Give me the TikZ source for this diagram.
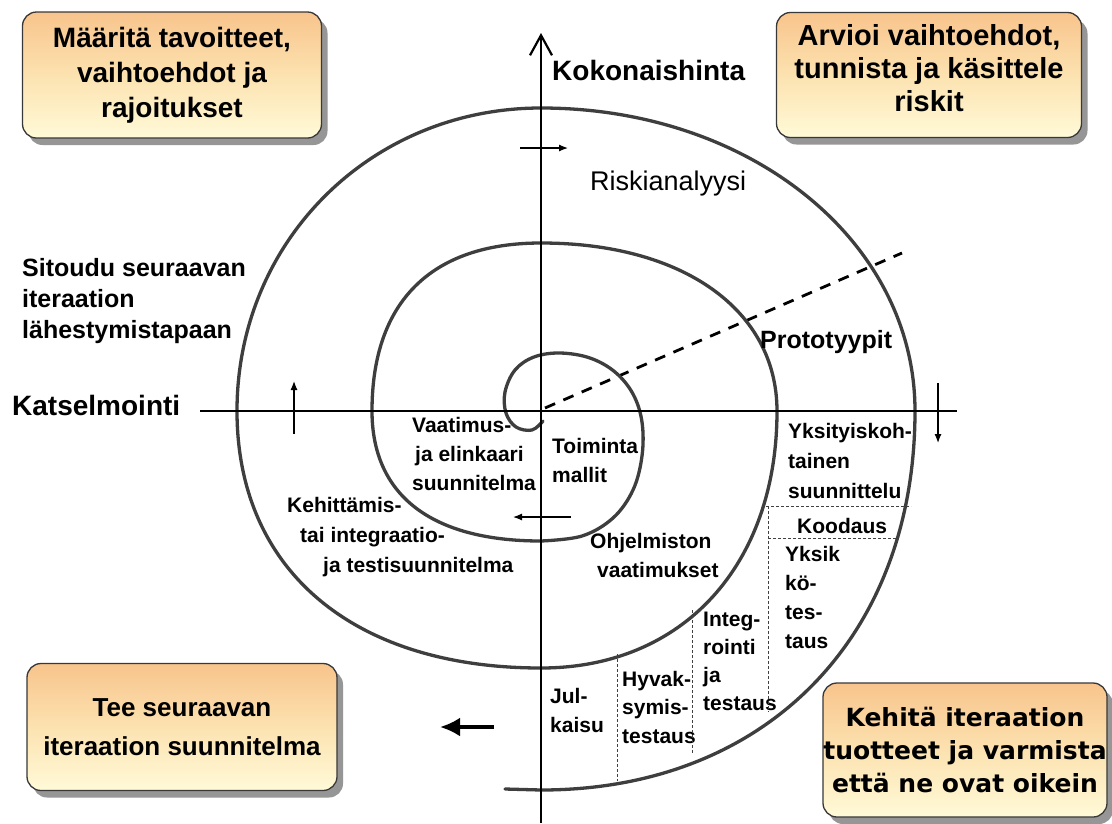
\documentclass[tikz,border=0pt]{standalone}
\usepackage{fontspec}
\setmainfont{Liberation Sans}
\newfontfamily\wideface{DejaVu Sans}
\usetikzlibrary{arrows.meta,shadows}
\definecolor{boxtop}{HTML}{F8C48C}
\definecolor{boxmid}{HTML}{FCE2B0}
\definecolor{boxbot}{HTML}{FFFAD8}
\definecolor{spiralgray}{HTML}{3E3E3E}
\definecolor{framegray}{HTML}{383838}
\begin{document}
\begin{tikzpicture}[x=1pt,y=-1pt,
  phasebox/.style={draw=framegray, line width=1.3pt, rounded corners=14pt,
    top color=boxtop, bottom color=boxbot, middle color=boxmid,
    drop shadow={shadow xshift=6pt, shadow yshift=-7pt, fill=black!55, opacity=0.75},
    align=center, inner sep=0pt},
  axisline/.style={line width=2.6pt, black},
  axislabel/.style={font=\bfseries\fontsize{28}{34}\selectfont, inner sep=0pt},
  sidelabel/.style={font=\bfseries\fontsize{25}{31}\selectfont, inner sep=0pt, align=left},
  risklabel/.style={font=\fontsize{27}{32}\selectfont, inner sep=0pt},
  phaselabel/.style={font=\bfseries\fontsize{21}{29}\selectfont, inner sep=0pt, align=left},
  spiral/.style={line width=3.3pt, spiralgray, line cap=round},
  phaseline/.style={line width=0.8pt, black!75, dash pattern=on 3pt off 2pt},
  thinarrow/.style={line width=1.2pt, -{Latex[length=9pt,width=7pt]}},
  bigarrow/.style={line width=3.6pt, -{Latex[length=20pt,width=19pt]}}
]
% canvas
\fill[white] (0,0) rectangle (1112,823);
\useasboundingbox (0,0) rectangle (1112,823);

% corner boxes of the four quadrants
\node[phasebox, minimum width=299pt, minimum height=126pt,
      font=\bfseries\fontsize{28}{35}\selectfont] (goals) at (172,75)
  {Määritä tavoitteet,\\vaihtoehdot ja\\rajoitukset};
\node[phasebox, minimum width=305pt, minimum height=125pt,
      font=\bfseries\fontsize{29}{33}\selectfont] (risks) at (929,75)
  {Arvioi vaihtoehdot,\\tunnista ja käsittele\\riskit\rule[-14pt]{0pt}{14pt}};
\node[phasebox, minimum width=310pt, minimum height=127pt,
      font=\bfseries\fontsize{26}{39}\selectfont] (nextplan) at (182,727)
  {Tee seuraavan\\iteraation suunnitelma};
\node[phasebox, minimum width=284pt, minimum height=134pt,
      font=\wideface\bfseries\fontsize{25}{33}\selectfont] (develop) at (965,750)
  {Kehitä iteraation\\tuotteet ja varmista\\että ne ovat oikein};

% axes
\coordinate (ytop) at (541,33);
\coordinate (ybot) at (541,823);
\coordinate (xleft) at (200,411);
\coordinate (xright) at (957,411);
\coordinate (origin) at (545,408);
\coordinate (protoend) at (902,253);

% prototype boundary
\draw[line width=2.8pt, dash pattern=on 11pt off 9pt] (origin) -- (protoend);

% the spiral, from the centre outwards, turning clockwise
\draw[spiral]
  plot[smooth, tension=0.6] coordinates {
    (543,421) (532,430) (516,427) (506,413) (505,392) (515,370) (534,357)
    (560,353) (590,358) (615,372) (633,394) (642,422) (642,456) (633,490)
    (613,518) (582,536) (541,541)}
  .. controls (431,541) and (372,495) .. (372,411)
  .. controls (372,302) and (431,243) .. (541,243)
  .. controls (683,243) and (777,310) .. (777,411)
  .. controls (777,565) and (683,668) .. (541,668)
  .. controls (353,668) and (237,570) .. (237,411)
  .. controls (237,241) and (371,108) .. (541,108)
  .. controls (750,108) and (915,241) .. (915,411)
  .. controls (915,638) and (765,790) .. (541,790)
  -- (505,789);

\draw[axisline] (xleft) -- (xright);
\draw[axisline, -{Straight Barb[length=20pt,width=22pt,line width=2.2pt]}] (ybot) -- (ytop);

% axis and quadrant labels (multi-line labels sit on their last baseline)
\node[axislabel, anchor=base west] (cost) at (552,80) {Kokonaishinta};
\node[axislabel, anchor=base west] (review) at (12,415) {Katselmointi};
\node[risklabel, anchor=base west] (riskan) at (590,190) {Riskianalyysi};
\node[sidelabel, anchor=base west] (proto) at (760,348) {Prototyypit};
\node[sidelabel, anchor=base west] (commit) at (22,338)
  {Sitoudu seuraavan\\iteraation\\lähestymistapaan};

% phase labels inside the spiral
\node[phaselabel, anchor=base west] (reqplan) at (412,490)
  {Vaatimus-\\\hspace*{3pt}ja elinkaari\\suunnitelma};
\node[phaselabel, anchor=base west] (opmodel) at (552,482) {Toiminta\\mallit};
\node[phaselabel, anchor=base west, font=\bfseries\fontsize{21}{30}\selectfont] (devplan) at (287,572)
  {Kehittämis-\\\hspace*{13pt}tai integraatio-\\\hspace*{36pt}ja testisuunnitelma};
\node[phaselabel, anchor=base west] (swreq) at (590,577) {Ohjelmiston\\\hspace*{7pt}vaatimukset};
\node[phaselabel, anchor=base west, font=\bfseries\fontsize{21}{30}\selectfont] (design) at (788,498)
  {Yksityiskoh-\\tainen\\suunnittelu};
\node[phaselabel, anchor=base west] (coding) at (797,533) {Koodaus};
\node[phaselabel, anchor=base west, font=\bfseries\fontsize{21}{28.7}\selectfont] (unit) at (785,648)
  {Yksik\\kö-\\tes-\\taus};
\node[phaselabel, anchor=base west, font=\bfseries\fontsize{21}{27.7}\selectfont] (integ) at (703,710)
  {Integ-\\rointi\\ja\\testaus};
\node[phaselabel, anchor=base west, font=\bfseries\fontsize{21}{28.5}\selectfont] (accept) at (622,743)
  {Hyvak-\\symis-\\testaus};
\node[phaselabel, anchor=base west] (release) at (550,732) {Jul-\\kaisu};

% phase separators
\coordinate (sepA1) at (766,506);
\coordinate (sepA2) at (911,506);
\coordinate (sepB1) at (768,538);
\coordinate (sepB2) at (899,538);
\coordinate (sepC1) at (768,506);
\coordinate (sepC2) at (768,712);
\coordinate (sepD1) at (692,610);
\coordinate (sepD2) at (692,754);
\coordinate (sepE1) at (617,654);
\coordinate (sepE2) at (617,781);
\draw[phaseline] (sepA1) -- (sepA2);
\draw[phaseline] (sepB1) -- (sepB2);
\draw[phaseline] (sepC1) -- (sepC2);
\draw[phaseline] (sepD1) -- (sepD2);
\draw[phaseline] (sepE1) -- (sepE2);

% direction arrows
\coordinate (topA) at (520,148);
\coordinate (topB) at (568,148);
\coordinate (rightA) at (938,383);
\coordinate (rightB) at (938,443);
\coordinate (midA) at (571,517);
\coordinate (midB) at (513,517);
\coordinate (leftA) at (294,434);
\coordinate (leftB) at (294,381);
\coordinate (bigA) at (494,727);
\coordinate (bigB) at (440,727);
\draw[thinarrow] (topA) -- (topB);
\draw[thinarrow] (rightA) -- (rightB);
\draw[thinarrow] (midA) -- (midB);
\draw[thinarrow] (leftA) -- (leftB);
\draw[bigarrow] (bigA) -- (bigB);
\end{tikzpicture}
\end{document}
